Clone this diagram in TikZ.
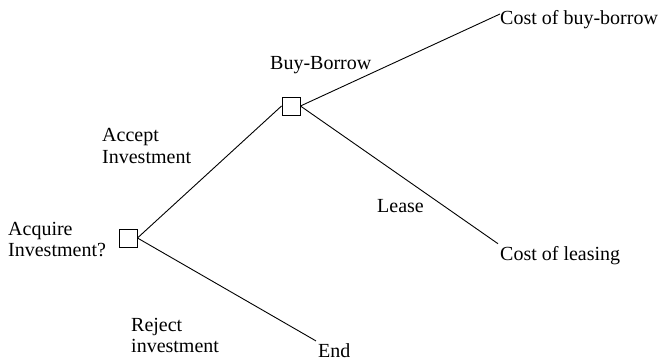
\documentclass[tikz,border=0pt]{standalone}
\usepackage{fontspec}
\setmainfont{Liberation Serif}
\begin{document}
\begin{tikzpicture}[x=1pt,y=-1pt,
  decision/.style={draw, line width=0.9pt, minimum size=18pt, inner sep=0pt},
  lbl/.style={inner sep=0pt, anchor=base west, align=left, font=\fontsize{20}{21}\selectfont},
  endlbl/.style={inner sep=2pt, anchor=base west, font=\fontsize{20}{21}\selectfont},
  branch/.style={line width=0.9pt}]
\useasboundingbox (0,0) rectangle (662,361);
\node[decision] (d1) at (128,238) {};
\node[decision] (d2) at (291,106) {};
\node[lbl] (acq) at (8,256) {Acquire\\Investment?};
\node[lbl] (acc) at (102,163) {Accept\\Investment};
\node[lbl] (bb) at (270,70) {Buy-Borrow};
\node[lbl] (lease) at (377,212) {Lease};
\node[lbl] (rej) at (131,352) {Reject\\investment};
\node[endlbl] (cbb) at (498,25) {Cost of buy-borrow};
\node[endlbl] (cl) at (498,260) {Cost of leasing};
\node[endlbl] (fin) at (316,357) {End};
\coordinate (cbbin) at (500,14);
\draw[branch] (d1.east) -- (d2.west);
\draw[branch] (d2.east) -- (cbbin);
\draw[branch] (d2.east) -- (cl.north west);
\draw[branch] (d1.east) -- (fin.north west);
\end{tikzpicture}
\end{document}
